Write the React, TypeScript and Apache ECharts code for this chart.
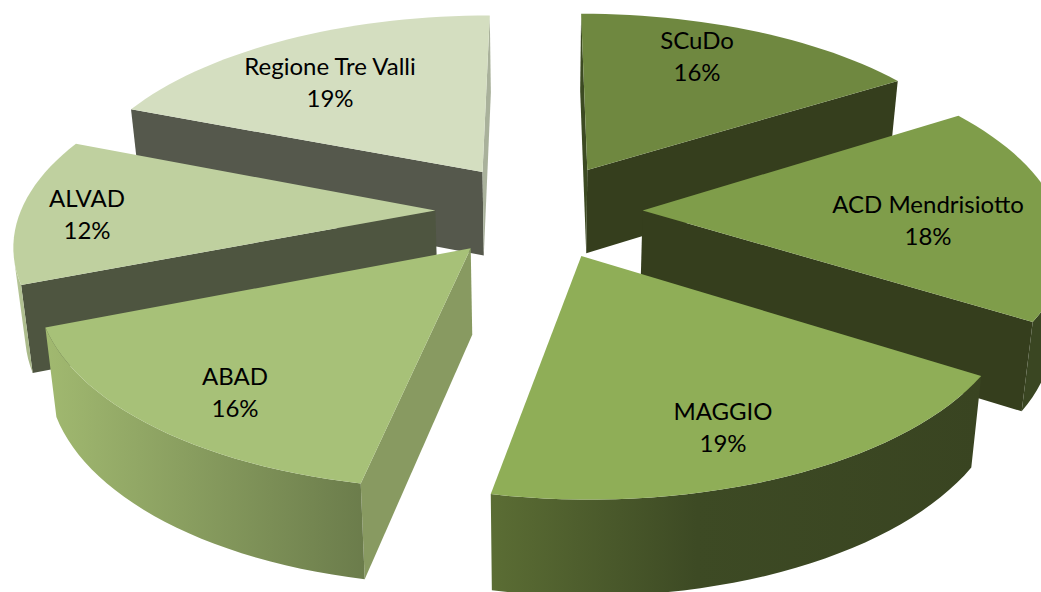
import React, { useEffect, useRef } from "react";
import * as echarts from "echarts";

const categories = ["SCuDo", "ACD Mendrisiotto", "MAGGIO", "ABAD", "ALVAD", "Regione Tre Valli"];
const shares = [16, 18, 19.1, 15.9, 12, 19];

const topColors = ["#6F8840", "#7F9D4A", "#8FAE57", "#A7C178", "#BFD09F", "#D4DEC0"];
const startCutColors = ["#3C4A22", "#353E1D", "#3A4622", "#889A61", "#4E5540", "#55584C"];
const endCutColors = ["#353E1D", "#353E1D", "#3A4622", "#889A61", "#4E5540", "#A9B19B"];
const wallStops: [number, string][][] = [
  [[0, "#3A4622"], [1, "#3A4622"]],
  [[0, "#3A4622"], [1, "#3A4622"]],
  [[0, "#5B6D34"], [0.42, "#3D4A24"], [1, "#394421"]],
  [[0, "#A1B970"], [1, "#6B7C4B"]],
  [[0, "#B9C99A"], [1, "#A5B585"]],
  [[0, "#C0CAAE"], [1, "#A9B19B"]],
];
const labelCenters: [number, number][] = [
  [697, 55], [928, 219], [723, 426], [235, 391], [87, 213], [330, 81],
];

const EXPLODE = 0.25;
const CX = 539;
const DIST = 6.587;
const TOP = { horizon: -1049, h: 8296, f: 2730 };
const BOTTOM = { horizon: -1014, h: 8625, f: 2669 };
const STEP = 2;

type P = number[];
const project = (plane: typeof TOP, x: number, y: number): P => {
  const w = DIST - y;
  return [CX + (x * plane.f) / w, plane.horizon + plane.h / w];
};
const shoelace = (pts: P[]) =>
  pts.reduce((s, p, i) => {
    const q = pts[(i + 1) % pts.length];
    return s + p[0] * q[1] - q[0] * p[1];
  }, 0);

const total = shares.reduce((a, b) => a + b, 0);
const startAngles = shares.map((_, i) => (shares.slice(0, i).reduce((a, b) => a + b, 0) / total) * 360);
const midAngle = (i: number) => startAngles[i] + (shares[i] / total) * 180;
const rad = (d: number) => (d * Math.PI) / 180;
const paintOrder = shares.map((_, i) => i).sort((a, b) => -Math.cos(rad(midAngle(a))) + Math.cos(rad(midAngle(b))));

function renderSlice(_params: any, api: any) {
  const i = api.value(0);
  const share = api.value(1);
  const a0 = startAngles[i];
  const a1 = a0 + (share / total) * 360;
  const m = rad(midAngle(i));
  const ox = EXPLODE * Math.sin(m);
  const oy = -EXPLODE * Math.cos(m);
  const steps = Math.max(2, Math.round((a1 - a0) / STEP));
  const ground: number[][] = [];
  for (let s = 0; s <= steps; s++) {
    const t = rad(a0 + ((a1 - a0) * s) / steps);
    ground.push([ox + Math.sin(t), oy - Math.cos(t)]);
  }
  const arcTop = ground.map((g) => project(TOP, g[0], g[1]));
  const arcBot = ground.map((g) => project(BOTTOM, g[0], g[1]));
  const apexTop = project(TOP, ox, oy);
  const apexBot = project(BOTTOM, ox, oy);
  const children: any[] = [];
  const quad = (points: P[], fill: any) => ({ type: "polygon", shape: { points }, style: { fill }, silent: true });

  const startFace = [apexTop, arcTop[0], arcBot[0], apexBot];
  const endFace = [arcTop[steps], apexTop, apexBot, arcBot[steps]];
  if (shoelace(startFace) < 0) children.push(quad(startFace, startCutColors[i]));
  if (shoelace(endFace) < 0) children.push(quad(endFace, endCutColors[i]));

  let first = -1;
  let last = -1;
  for (let s = 0; s < steps; s++) {
    if (shoelace([arcTop[s], arcTop[s + 1], arcBot[s + 1], arcBot[s]]) < 0) {
      if (first < 0) first = s;
      last = s;
    }
  }
  if (first >= 0) {
    const upper = arcTop.slice(first, last + 2);
    const lower = arcBot.slice(first, last + 2).reverse();
    const pts = upper.concat(lower);
    const stops = wallStops[i].map(([offset, color]) => ({ offset, color }));
    children.push(quad(pts, new echarts.graphic.LinearGradient(0, 0, 1, 0, stops)));
  }
  children.push(quad([apexTop].concat(arcTop), topColors[i]));
  children.push({
    type: "text",
    x: labelCenters[i][0],
    y: labelCenters[i][1],
    silent: true,
    style: {
      text: `${categories[i]}\n${Math.round(share)}%`,
      fill: "#000000",
      font: '400 24px Lato, "Open Sans", sans-serif',
      align: "center",
      verticalAlign: "middle",
      lineHeight: 32,
    },
  });
  return { type: "group", children };
}

export default function App() {
  const ref = useRef<HTMLDivElement>(null);
  useEffect(() => {
    document.body.style.margin = "0";
    const chart = echarts.init(ref.current!, undefined, { renderer: "svg" });
    chart.setOption({
      animation: false,
      backgroundColor: "#FFFFFF",
      series: [
        {
          type: "custom",
          coordinateSystem: "none",
          renderItem: renderSlice,
          data: paintOrder.map((i) => [i, shares[i]]),
          encode: { value: [0, 1] },
        },
      ],
    });
    return () => chart.dispose();
  }, []);
  return <div ref={ref} style={{ width: 1041, height: 592 }} />;
}
